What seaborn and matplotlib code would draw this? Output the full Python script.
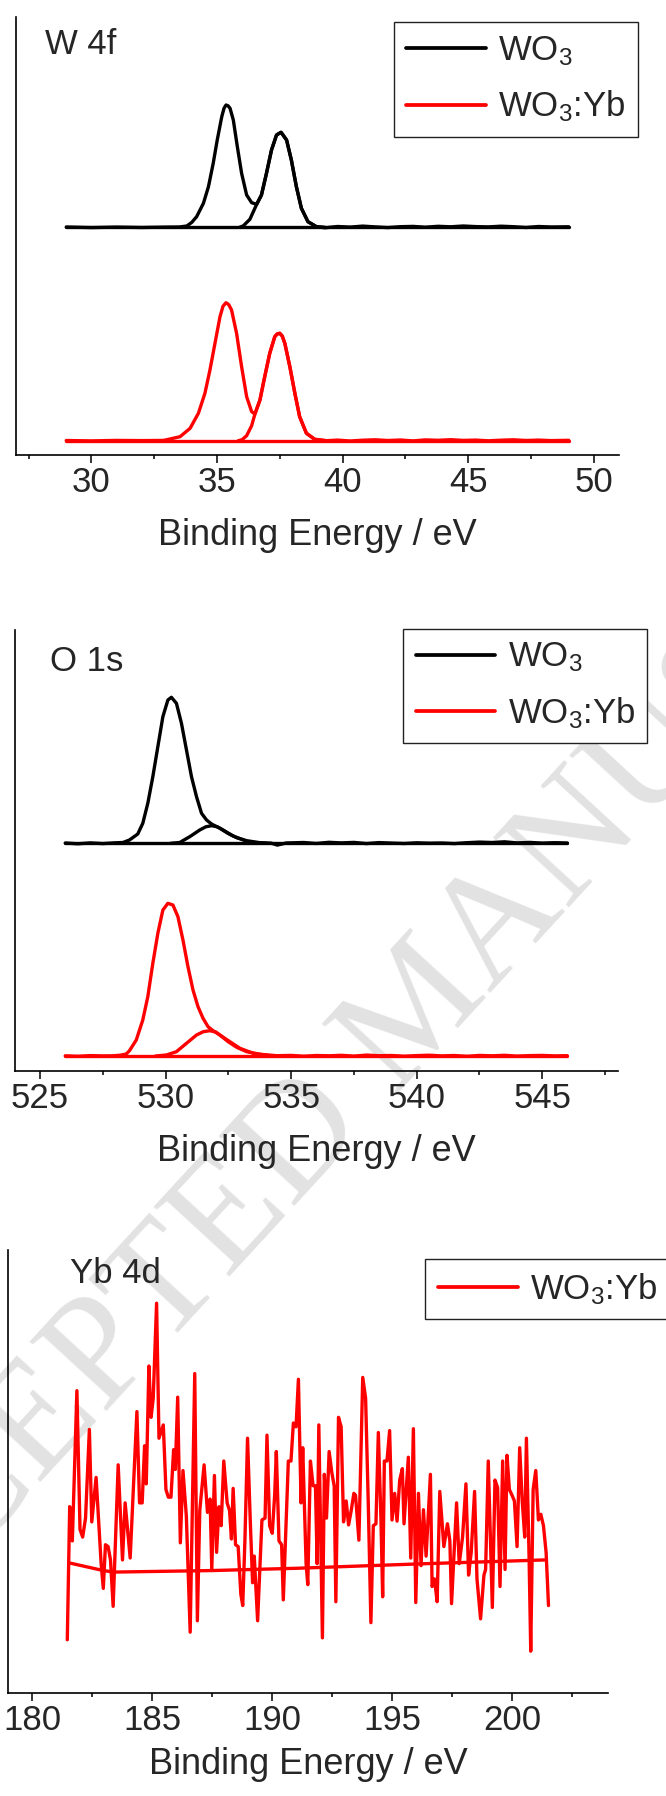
import numpy as np
import pandas as pd
import matplotlib
matplotlib.use("Agg")
import matplotlib.pyplot as plt
from matplotlib.ticker import MultipleLocator, NullLocator
import seaborn as sns

sns.set_theme(style="white")
plt.rcParams["font.family"] = ["Liberation Sans", "DejaVu Sans"]
plt.rcParams["mathtext.fontset"] = "custom"
plt.rcParams["mathtext.rm"] = "Liberation Sans"
plt.rcParams["mathtext.it"] = "Liberation Sans:italic"
plt.rcParams["mathtext.bf"] = "Liberation Sans:bold"

# ---------------- W 4f (intensity above background, a.u.) ----------------
w4f_offset_wo3 = 227.7
w4f_offset_yb = 14.3

w4f_wo3_x = [29.0, 30.0, 31.0, 32.0, 33.0, 33.5, 33.8, 34.0, 34.19, 34.46, 34.66, 34.85, 35.01,
             35.19, 35.28, 35.36, 35.44, 35.52, 35.65, 35.81, 35.98, 36.18, 36.38, 36.58, 36.77,
             36.97, 37.17, 37.37, 37.55, 37.77, 37.96, 38.16, 38.36, 38.62, 38.96, 39.3, 39.8,
             40.3, 40.8, 41.3, 41.8, 42.3, 42.8, 43.3, 43.8, 44.3, 44.8, 45.3, 45.8, 46.3, 46.8,
             47.3, 47.8, 48.3, 49.0]
w4f_wo3_y = [0.3, -0.3, 0.2, -0.2, 0.2, 0.3, 1.3, 5.0, 10.6, 24.0, 40.6, 64.0, 87.3,
             110.6, 119.0, 122.3, 121.5, 119.0, 107.3, 80.6, 54.0, 32.3, 24.6, 23.0, 32.3,
             54.0, 77.3, 92.3, 95.0, 87.3, 67.3, 40.6, 19.0, 5.6, 0.6, -0.5, 0.8,
             0.2, 1.2, 0.4, -0.3, 0.6, 0.9, 0.1, 1.0, 0.5, 1.3, 0.7, 0.4, 1.1, 0.6,
             -0.2, 0.8, 0.3, 0.5]
# W 4f5/2 component (its rising edge is the only part not hidden by the envelope)
w4f_wo3_c2_x = [35.9, 36.05, 36.31, 36.58, 36.77, 36.97, 37.17, 37.37, 37.55, 37.77, 37.96,
                38.16, 38.36, 38.62, 38.96, 39.3]
w4f_wo3_c2_y = [0.0, 1.5, 8.0, 23.0, 32.3, 54.0, 77.3, 92.3, 95.0, 87.3, 67.3,
                40.6, 19.0, 5.6, 0.6, 0.0]

w4f_yb_x = [29.0, 30.0, 31.0, 32.0, 32.87, 33.13, 33.53, 33.93, 34.26, 34.52, 34.72, 34.92,
            35.12, 35.24, 35.36, 35.47, 35.58, 35.78, 35.98, 36.18, 36.38, 36.51, 36.71, 36.90,
            37.10, 37.30, 37.40, 37.50, 37.60, 37.70, 37.90, 38.10, 38.29, 38.56, 38.89, 39.35,
            39.8, 40.3, 40.8, 41.3, 41.8, 42.3, 42.8, 43.3, 43.8, 44.3, 44.8, 45.3, 45.8,
            46.3, 46.8, 47.3, 47.8, 48.3, 49.0]
w4f_yb_y = [0.2, -0.2, 0.3, 0.1, 0.3, 1.7, 4.0, 12.4, 27.4, 47.4, 70.7, 97.4,
            124.0, 134.5, 138.0, 136.0, 130.7, 107.4, 74.0, 44.0, 29.0, 26.7, 40.7, 64.0,
            87.4, 104.0, 106.8, 107.4, 104.5, 97.4, 74.0, 47.4, 24.0, 7.4, 1.4, 0.0,
            0.6, -0.3, 0.5, 0.9, 0.2, 0.7, -0.2, 0.8, 0.4, 1.0, 0.3, 0.6, -0.1,
            0.5, 0.9, 0.2, 0.6, 0.1, 0.4]
w4f_yb_c2_x = [35.85, 36.0, 36.18, 36.38, 36.51, 36.71, 36.90, 37.10, 37.30, 37.40, 37.50,
               37.60, 37.70, 37.90, 38.10, 38.29, 38.56, 38.89, 39.35]
w4f_yb_c2_y = [0.0, 1.0, 5.0, 15.0, 26.7, 40.7, 64.0, 87.4, 104.0, 106.8, 107.4,
               104.5, 97.4, 74.0, 47.4, 24.0, 7.4, 1.4, 0.0]

# ---------------- O 1s ----------------
o1s_offset_wo3 = 227.4
o1s_offset_yb = 14.7

o1s_wo3_x = [526.0, 526.5, 527.0, 527.5, 528.0, 528.3, 528.56, 528.89, 529.09, 529.29, 529.49,
             529.69, 529.89, 530.09, 530.23, 530.43, 530.63, 530.83, 531.03, 531.23, 531.43,
             531.63, 531.83, 532.16, 532.49, 532.83, 533.23, 533.76, 534.2, 534.45, 534.8,
             535.5, 536.0, 536.5, 537.0, 537.5, 538.0, 538.5, 539.0, 539.5, 540.0, 540.5,
             541.0, 541.5, 542.0, 542.5, 543.0, 543.5, 544.0, 544.5, 545.0, 545.5, 546.0]
o1s_wo3_y = [0.3, -0.5, 0.4, -0.3, 0.5, 0.8, 3.3, 9.3, 20.0, 40.0, 66.6,
             96.6, 126.6, 143.3, 146.0, 140.0, 120.0, 93.3, 66.6, 46.6, 30.0,
             23.3, 19.3, 15.0, 9.8, 5.6, 2.6, 0.6, 0.2, -1.8, 0.3,
             0.8, -0.2, 1.0, 0.4, 0.9, -0.3, 0.7, 0.2, -0.2, 0.5, 0.1,
             0.3, -0.3, 0.6, 1.2, 0.8, 1.5, 0.4, 0.9, 0.2, 0.6, 0.3]
o1s_wo3_c2_x = [530.2, 530.56, 530.96, 531.36, 531.6, 531.83, 532.06, 532.29, 532.69, 533.23,
                533.63, 534.0]
o1s_wo3_c2_y = [0.0, 0.8, 6.6, 13.3, 16.5, 17.6, 16.5, 13.3, 7.3, 2.0,
                0.3, 0.0]

o1s_yb_x = [526.0, 526.5, 527.0, 527.5, 527.89, 528.2, 528.43, 528.56, 528.83, 529.09, 529.29,
            529.49, 529.69, 529.89, 530.09, 530.29, 530.49, 530.69, 530.89, 531.09, 531.29,
            531.49, 531.69, 531.89, 532.16, 532.49, 532.83, 533.23, 533.76, 534.43, 535.0,
            535.5, 536.0, 536.5, 537.0, 537.5, 538.0, 538.5, 539.0, 539.5, 540.0, 540.5,
            541.0, 541.5, 542.0, 542.5, 543.0, 543.5, 544.0, 544.5, 545.0, 545.5, 546.0]
o1s_yb_y = [0.2, -0.3, 0.4, 0.1, 0.2, 0.8, 2.0, 5.3, 16.0, 36.0, 59.3,
            92.7, 122.7, 146.0, 152.7, 151.0, 139.3, 116.0, 89.3, 66.0, 49.3,
            37.7, 29.3, 25.3, 21.0, 14.3, 8.7, 4.3, 1.7, 0.3, 0.6,
            -0.2, 0.5, 0.2, 0.7, -0.1, 0.9, 0.3, 0.5, -0.2, 0.4, 0.8,
            0.1, 0.5, -0.3, 0.6, 0.2, 0.7, -0.1, 0.4, 0.6, 0.1, 0.3]
o1s_yb_c2_x = [529.6, 530.03, 530.43, 530.83, 531.23, 531.5, 531.76, 532.0, 532.16, 532.56,
               532.96, 533.49, 534.16, 534.6]
o1s_yb_c2_y = [0.0, 1.0, 4.3, 12.7, 21.0, 24.3, 25.3, 24.0, 21.0, 14.3,
               7.7, 2.7, 0.3, 0.0]

# ---------------- Yb 4d (WO3:Yb only) ----------------
yb4d_x = [181.45, 181.55, 181.66, 181.85, 181.98, 182.09, 182.21, 182.37, 182.47, 182.65,
          182.86, 182.95, 183.04, 183.15, 183.25, 183.36, 183.57, 183.75, 183.86, 184.07,
          184.21, 184.35, 184.46, 184.57, 184.67, 184.74, 184.85, 184.94, 185.03, 185.17,
          185.27, 185.45, 185.56, 185.66, 185.77, 185.88, 185.95, 186.05, 186.16, 186.27,
          186.41, 186.57, 186.76, 186.87, 186.97, 187.15, 187.29, 187.40, 187.47, 187.58,
          187.67, 187.77, 187.86, 187.97, 188.11, 188.21, 188.29, 188.36, 188.46, 188.57,
          188.68, 188.76, 188.85, 188.96, 189.07, 189.17, 189.24, 189.38, 189.56, 189.69,
          189.77, 189.88, 189.99, 190.09, 190.16, 190.27, 190.38, 190.45, 190.66, 190.77,
          190.87, 190.98, 191.08, 191.19, 191.26, 191.40, 191.47, 191.58, 191.69, 191.79,
          191.86, 191.93, 192.08, 192.16, 192.25, 192.36, 192.47, 192.57, 192.64, 192.75,
          192.86, 192.96, 193.07, 193.17, 193.28, 193.39, 193.46, 193.60, 193.76, 193.88,
          193.99, 194.10, 194.20, 194.31, 194.41, 194.52, 194.59, 194.66, 194.77, 194.88,
          194.98, 195.09, 195.19, 195.30, 195.41, 195.48, 195.66, 195.76, 195.87, 195.97,
          196.08, 196.19, 196.29, 196.40, 196.58, 196.65, 196.75, 196.86, 196.97, 197.14,
          197.29, 197.39, 197.46, 197.67, 197.78, 197.92, 198.06, 198.17, 198.28, 198.42,
          198.52, 198.67, 198.81, 198.88, 198.99, 199.16, 199.27, 199.38, 199.48, 199.59,
          199.69, 199.77, 199.87, 199.98, 200.08, 200.19, 200.30, 200.40, 200.51, 200.58,
          200.69, 200.76, 200.86, 200.97, 201.08, 201.18, 201.29, 201.40, 201.50]
yb4d_y = [14.0, 49.0, 40.0, 79.5, 43.0, 41.0, 46.0, 69.3, 45.0, 56.7,
          34.0, 27.5, 39.0, 38.5, 35.0, 22.8, 60.0, 35.0, 50.0, 35.5,
          55.0, 74.0, 50.0, 50.0, 65.0, 55.0, 86.0, 72.5, 77.5, 102.5,
          67.0, 70.5, 53.5, 51.5, 51.5, 64.0, 58.8, 77.8, 39.5, 58.5,
          46.5, 16.0, 84.0, 19.0, 48.0, 60.0, 47.5, 51.0, 32.5, 57.2,
          37.0, 49.0, 44.0, 61.0, 50.0, 48.0, 40.5, 53.8, 39.0, 38.5,
          26.0, 23.0, 40.0, 67.0, 46.0, 29.0, 36.0, 19.0, 45.5, 46.0,
          67.8, 44.0, 42.0, 52.0, 63.5, 40.0, 39.0, 24.5, 61.0, 61.0,
          71.0, 70.0, 82.5, 50.0, 64.5, 34.0, 28.5, 61.0, 54.5, 54.5,
          34.0, 70.5, 14.5, 57.5, 46.0, 63.5, 58.0, 54.5, 24.0, 72.5,
          70.0, 45.0, 50.5, 44.2, 48.0, 52.5, 52.0, 40.2, 83.0, 77.5,
          50.0, 18.5, 44.0, 44.5, 68.5, 45.5, 25.3, 61.0, 61.0, 69.0,
          45.5, 52.5, 45.2, 56.0, 59.0, 44.5, 62.0, 35.5, 69.5, 23.8,
          52.5, 33.5, 48.2, 36.0, 57.5, 28.0, 30.0, 24.0, 53.0, 38.5,
          44.5, 40.0, 23.5, 50.0, 34.0, 41.0, 55.0, 31.0, 37.0, 53.0,
          30.0, 19.5, 31.0, 32.5, 61.0, 22.5, 56.0, 54.0, 28.0, 61.0,
          32.5, 62.5, 53.5, 52.0, 50.5, 38.5, 64.5, 51.0, 41.0, 67.0,
          36.0, 11.0, 53.5, 58.5, 45.5, 47.0, 44.0, 37.0, 23.0]
yb4d_bg_x = [181.54, 182.95, 183.39, 187.47, 191.01, 196.33, 201.38]
yb4d_bg_y = [34.2, 32.2, 31.8, 32.2, 32.8, 34.0, 35.0]

BLACK = "#000000"
RED = "#ff0000"
LW = 2.4
FS = 25

fig = plt.figure(figsize=(6.66, 17.96), dpi=100)
fig.patch.set_facecolor("white")

# watermark behind the plots
fig.text(0.634, 0.4366, "ACCEPTED MANUSCRIPT", rotation=47.4, rotation_mode="anchor",
         ha="center", va="center", fontsize=113, color="#e2e2e2",
         family=["Liberation Serif", "DejaVu Serif"], zorder=-5)


def style_axes(ax, xlim, ylim, labelpad):
    ax.set_facecolor("none")
    ax.set_xlim(*xlim)
    ax.set_ylim(*ylim)
    for side in ["top", "right"]:
        ax.spines[side].set_visible(False)
    for side in ["left", "bottom"]:
        ax.spines[side].set_color("black")
        ax.spines[side].set_linewidth(1.2)
    ax.xaxis.set_major_locator(MultipleLocator(5))
    ax.xaxis.set_minor_locator(MultipleLocator(2.5))
    ax.yaxis.set_major_locator(NullLocator())
    ax.tick_params(axis="x", which="major", direction="out", length=5.5, width=1.1,
                   pad=2.5, labelsize=FS, color="black", bottom=True)
    ax.tick_params(axis="x", which="minor", direction="out", length=3, width=1.1,
                   color="black", bottom=True)
    ax.tick_params(axis="y", left=False, labelleft=False)
    ax.set_xlabel("Binding Energy / eV", fontsize=26, labelpad=labelpad)
    ax.set_ylabel("")


def add_legend(ax, x0, y0):
    leg = ax.legend(loc="upper left", bbox_to_anchor=(x0, y0), borderaxespad=0,
                    fontsize=FS, frameon=True, fancybox=False, framealpha=1,
                    handlelength=2.3, handletextpad=0.35, borderpad=0.35,
                    labelspacing=0.6)
    leg.get_frame().set_edgecolor("#222222")
    leg.get_frame().set_linewidth(1.0)
    for line in leg.get_lines():
        line.set_linewidth(LW + 0.3)
    return leg


def draw(ax, x, y, offset, color, label=None):
    sns.lineplot(x=x, y=np.array(y) + offset, ax=ax, color=color, lw=LW, sort=False,
                 estimator=None, legend=False, label=label)


# ---- panel 1 : W 4f ----
ax1 = fig.add_axes([0.024, 0.74666, 0.9054, 0.24388])
draw(ax1, [29.0, 49.0], [0.0, 0.0], w4f_offset_wo3, BLACK)
draw(ax1, w4f_wo3_c2_x, w4f_wo3_c2_y, w4f_offset_wo3, BLACK)
draw(ax1, w4f_wo3_x, w4f_wo3_y, w4f_offset_wo3, BLACK, r"WO$_3$")
draw(ax1, [29.0, 49.0], [0.0, 0.0], w4f_offset_yb, RED)
draw(ax1, w4f_yb_c2_x, w4f_yb_c2_y, w4f_offset_yb, RED)
draw(ax1, w4f_yb_x, w4f_yb_y, w4f_offset_yb, RED, r"WO$_3$:Yb")
style_axes(ax1, (27, 51), (0, 438), 13.5)
ax1.text(0.0476, 0.9144, "W 4f", transform=ax1.transAxes, fontsize=FS,
         ha="left", va="baseline")
add_legend(ax1, 0.627, 0.9886)

# ---- panel 2 : O 1s ----
ax2 = fig.add_axes([0.02252, 0.40384, 0.9047, 0.24516])
draw(ax2, [526.0, 546.0], [0.0, 0.0], o1s_offset_wo3, BLACK)
draw(ax2, o1s_wo3_c2_x, o1s_wo3_c2_y, o1s_offset_wo3, BLACK)
draw(ax2, o1s_wo3_x, o1s_wo3_y, o1s_offset_wo3, BLACK, r"WO$_3$")
draw(ax2, [526.0, 546.0], [0.0, 0.0], o1s_offset_yb, RED)
draw(ax2, o1s_yb_c2_x, o1s_yb_c2_y, o1s_offset_yb, RED)
draw(ax2, o1s_yb_x, o1s_yb_y, o1s_offset_yb, RED, r"WO$_3$:Yb")
style_axes(ax2, (524, 548), (0, 440.3), 13.7)
ax2.text(0.058, 0.9071, "O 1s", transform=ax2.transAxes, fontsize=FS,
         ha="left", va="baseline")
add_legend(ax2, 0.6446, 1.0043)

# ---- panel 3 : Yb 4d ----
ax3 = fig.add_axes([0.01276, 0.05735, 0.9009, 0.24666])
draw(ax3, yb4d_bg_x, yb4d_bg_y, 0.0, RED)
draw(ax3, yb4d_x, yb4d_y, 0.0, RED, r"WO$_3$:Yb")
style_axes(ax3, (179, 204), (0, 116.5), 7.1)
ax3.text(0.1025, 0.926, "Yb 4d", transform=ax3.transAxes, fontsize=FS,
         ha="left", va="baseline")
add_legend(ax3, 0.695, 0.980)

fig.savefig("out.png", dpi=100, facecolor="white")
